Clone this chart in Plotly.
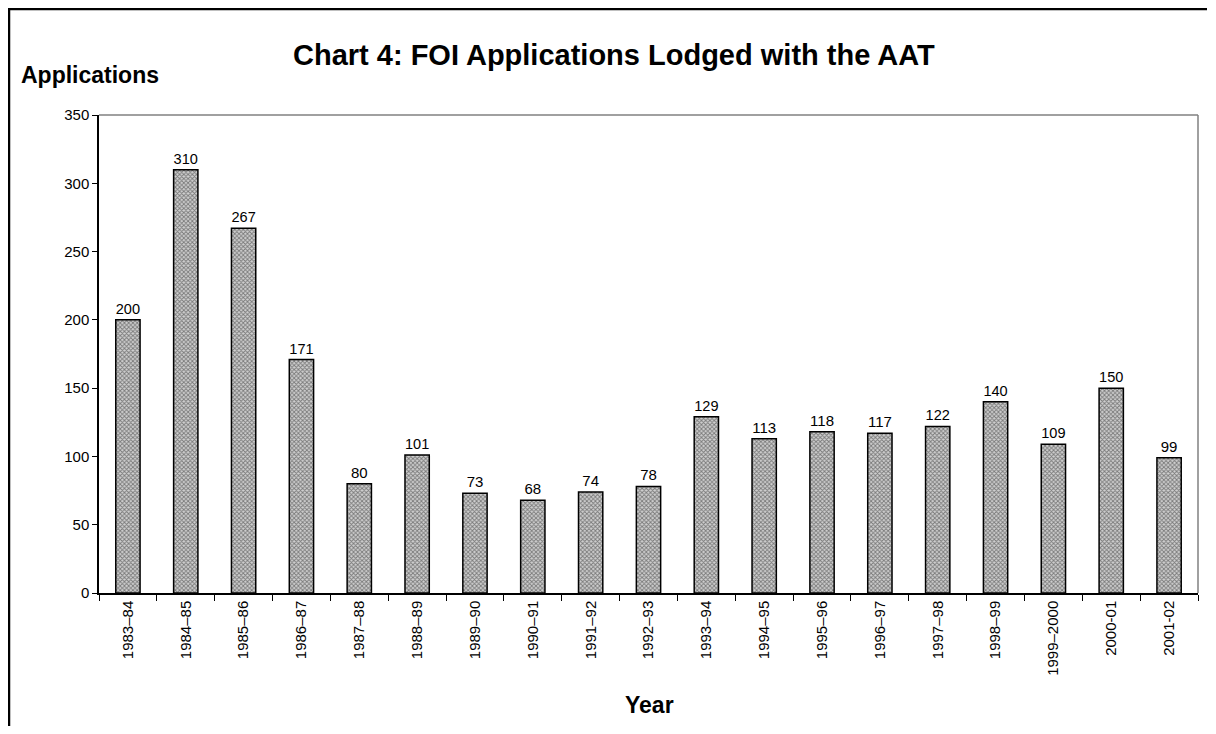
import plotly.graph_objects as go

years = ["1983–84", "1984–85", "1985–86", "1986–87", "1987–88", "1988–89", "1989–90",
         "1990–91", "1991–92", "1992–93", "1993–94", "1994–95", "1995–96", "1996–97",
         "1997–98", "1998–99", "1999–2000", "2000-01", "2001-02"]
applications = [200, 310, 267, 171, 80, 101, 73, 68, 74, 78, 129, 113, 118, 117, 122, 140, 109, 150, 99]

OFF = 8  # page body margin
W, H = 1216 - 2 * OFF, 734 - 2 * OFF
# plot area on screen: x 99..1198, y 115..593
L, T = 99 - OFF, 115 - OFF
R = (W + OFF) - 1198
B = (H + OFF) - 593
pw, ph = W - L - R, H - T - B

def px(x):  # screen x -> paper
    return (x - OFF - L) / pw

def py(y):  # screen y -> paper
    return (H - B - (y - OFF)) / ph

font = "Liberation Sans, Arial, sans-serif"

fig = go.Figure(go.Bar(
    x=years, y=applications, width=0.42,
    text=[str(v) for v in applications], textposition="outside",
    textfont=dict(size=15, color="black", family=font),
    cliponaxis=False,
    marker=dict(color="#909090", line=dict(color="black", width=1.5),
                pattern=dict(shape="x", size=3, solidity=0.5, fgcolor="#222222", bgcolor="#d0d0d0")),
))

fig.update_layout(
    width=W, height=H, margin=dict(l=L, r=R, t=T, b=B),
    paper_bgcolor="white", plot_bgcolor="white", showlegend=False,
    font=dict(family=font, color="black", size=15),
    xaxis=dict(type="category", tickangle=-90, showline=True, linecolor="black", linewidth=1.5,
               ticks="outside", ticklen=6, tickcolor="black", tickson="boundaries",
               tickfont=dict(size=15), mirror=False, showgrid=False),
    yaxis=dict(range=[0, 350], dtick=50, showline=True, linecolor="black", linewidth=1.5,
               ticks="outside", ticklen=5, tickcolor="black", showgrid=False, zeroline=False,
               tickfont=dict(size=15)),
)

right_edge = OFF + W - 1
bottom_edge = OFF + H
border_path = "M {x0},{yb} L {x0},{yt} L {xr},{yt}".format(
    x0=px(9), yb=py(bottom_edge), yt=py(9), xr=px(right_edge))
shapes = [
    dict(type="line", xref="paper", yref="paper", x0=0, x1=1, y0=1, y1=1, line=dict(color="#808080", width=1.5)),
    dict(type="line", xref="paper", yref="paper", x0=1, x1=1, y0=0, y1=1, line=dict(color="#808080", width=1.5)),
    dict(type="path", xref="paper", yref="paper", path=border_path, line=dict(color="black", width=2.5)),
]
fig.update_layout(shapes=shapes)

fig.add_annotation(text="<b>Chart 4: FOI Applications Lodged with the AAT</b>", xref="paper", yref="paper",
                   x=px(614), y=py(55), showarrow=False, font=dict(size=29, family=font), xanchor="center", yanchor="middle")
fig.add_annotation(text="<b>Applications</b>", xref="paper", yref="paper",
                   x=px(19), y=py(75), showarrow=False, font=dict(size=23, family=font), xanchor="left", yanchor="middle")
fig.add_annotation(text="<b>Year</b>", xref="paper", yref="paper",
                   x=px(649), y=py(705), showarrow=False, font=dict(size=23, family=font), xanchor="center", yanchor="middle")

fig.write_html("out.html")
